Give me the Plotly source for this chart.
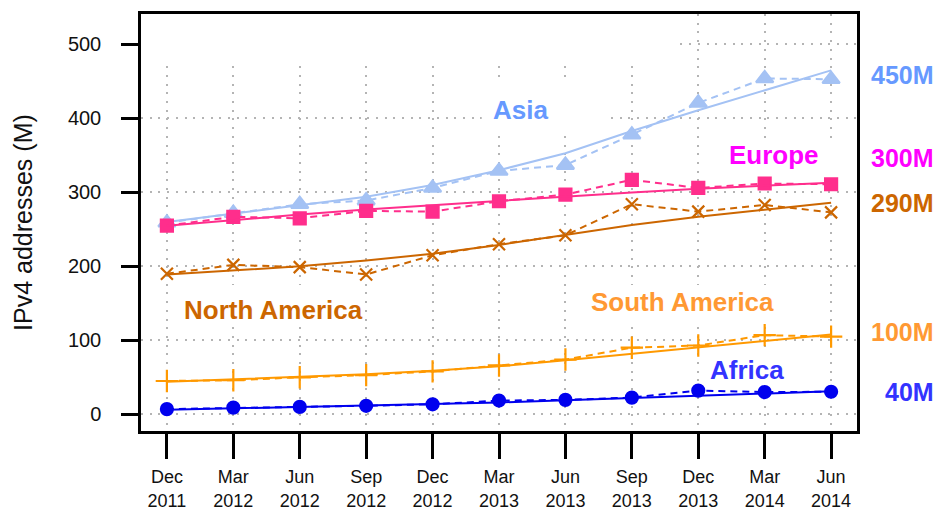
import plotly.graph_objects as go

# Quarterly snapshots
periods = ["Dec<br>2011", "Mar<br>2012", "Jun<br>2012", "Sep<br>2012", "Dec<br>2012",
           "Mar<br>2013", "Jun<br>2013", "Sep<br>2013", "Dec<br>2013", "Mar<br>2014", "Jun<br>2014"]

# Observed IPv4 addresses (millions) per region
asia_obs = [259, 272, 284, 289, 306, 329, 337, 378, 421, 454, 453]
europe_obs = [255, 267, 265, 275, 274, 288, 297, 317, 306, 312, 311]
north_america_obs = [190, 202, 199, 189, 215, 230, 242, 284, 274, 283, 273]
south_america_obs = [45, 46, 50, 53, 58, 66, 74, 90, 93, 107, 105]
africa_obs = [7, 9, 10, 11.5, 13.5, 18.5, 19.5, 22.5, 32, 30, 30.5]

# Fitted trends (millions)
asia_fit = [260, 271, 282, 294, 310, 330, 353, 383, 411, 438, 465]
europe_fit = [255, 263, 270, 277, 283, 289, 295, 300, 305, 309, 313]
north_america_fit = [189, 195, 200, 208, 217, 229, 242, 256, 267, 277, 286]
south_america_fit = [44, 47, 50, 54, 59, 65, 73, 82, 91, 100, 108]
africa_fit = [6, 8, 9.5, 11, 13, 16, 19, 22, 25, 28, 31]

y_ticks = [0, 100, 200, 300, 400, 500]
x_idx = list(range(len(periods)))

regions = [
    # name, observed, fit, line colour, marker symbol, marker size
    ("Asia", asia_obs, asia_fit, "#a4c2f4", "triangle-up", 15),
    ("Europe", europe_obs, europe_fit, "#ff2e8c", "square", 12),
    ("North America", north_america_obs, north_america_fit, "#cc6600", "x-thin", 12),
    ("South America", south_america_obs, south_america_fit, "#ff9900", "cross-thin", 16),
    ("Africa", africa_obs, africa_fit, "#0000ee", "circle", 12),
]

FONT = "Liberation Sans, Arial, Helvetica, sans-serif"

fig = go.Figure()

for name, obs, fit, col, sym, msize in regions:
    fig.add_trace(go.Scatter(
        x=x_idx, y=obs, mode="lines+markers", name=name + " observed",
        line=dict(color=col, width=2, dash="7px,5px"),
        marker=dict(symbol=sym, size=msize, color=col,
                    line=dict(color=col, width=2.2)),
        showlegend=False,
    ))
    fig.add_trace(go.Scatter(
        x=x_idx, y=fit, mode="lines", name=name + " trend",
        line=dict(color=col, width=2),
        showlegend=False,
    ))

# White panels behind the region labels (they mask the grid, not the data)
panels = [
    (-0.6, 7.68, 475, 560),      # top-left blank area
    (4.74, 6.63, 380, 449.5),    # Asia
    (8.1, 10.3, 310, 371),       # Europe
    (0.12, 2.94, 120.6, 174.8),  # North America
    (6.2, 9.4, 120.6, 174.8),    # South America
    (8.1, 9.4, 35.6, 84),        # Africa
]
for x0, x1, y0, y1 in panels:
    fig.add_shape(type="rect", xref="x", yref="y", x0=x0, x1=x1, y0=y0, y1=y1,
                  fillcolor="white", line=dict(width=0), layer="between")

# Region labels inside the plot
inner_labels = [
    ("Asia", 5.33, 411.4, "#6699ff"),
    ("Europe", 9.14, 350.6, "#ff00ff"),
    ("North America", 1.61, 141.1, "#cc6600"),
    ("South America", 7.76, 152.0, "#ff9933"),
    ("Africa", 8.73, 59.9, "#3333ff"),
]
for txt, x, y, col in inner_labels:
    fig.add_annotation(x=x, y=y, xref="x", yref="y", text="<b>" + txt + "</b>",
                       showarrow=False, font=dict(family=FONT, size=26, color=col),
                       xanchor="center", yanchor="middle")

# Totals on the right margin
side_labels = [
    ("450M", 458.8, "#6699ff"),
    ("300M", 346.9, "#ff00ff"),
    ("290M", 285.7, "#cc6600"),
    ("100M", 111.3, "#ff9933"),
    ("40M", 30.2, "#3333ff"),
]
for txt, y, col in side_labels:
    fig.add_annotation(x=1.1103, y=y, xref="paper", yref="y", text="<b>" + txt + "</b>",
                       showarrow=False, font=dict(family=FONT, size=25, color=col),
                       xanchor="right", yanchor="middle")

# Y axis title
fig.add_annotation(x=-0.165, y=0.501, xref="paper", yref="paper",
                   text="IPv4 addresses (M)", textangle=-90, showarrow=False,
                   font=dict(family=FONT, size=25, color="#111111"),
                   xanchor="center", yanchor="middle")

grid_style = dict(showgrid=True, gridcolor="#b4b4b4", gridwidth=2, griddash="2px,6.7px")

fig.update_xaxes(
    range=[-0.39, 10.39], tickmode="array", tickvals=x_idx, ticktext=periods,
    ticks="outside", ticklen=25, tickwidth=2.5, tickcolor="black",
    ticklabelstandoff=3, automargin=False,
    showline=True, linecolor="black", linewidth=2.5, mirror=True,
    zeroline=False, tickfont=dict(family=FONT, size=18, color="#111111"),
    **grid_style,
)
fig.update_yaxes(
    range=[-22.6, 541.2], tickmode="array", tickvals=y_ticks,
    ticks="outside", ticklen=17, tickwidth=2.5, tickcolor="black",
    ticklabelstandoff=16, automargin=False,
    showline=True, linecolor="black", linewidth=2.5, mirror=True,
    zeroline=False, tickfont=dict(family=FONT, size=20, color="#111111"),
    **grid_style,
)

fig.update_layout(
    width=939, height=510,
    margin=dict(l=141, r=82, t=14, b=79),
    paper_bgcolor="white", plot_bgcolor="white",
    font=dict(family=FONT),
)

fig.write_html("out.html")
